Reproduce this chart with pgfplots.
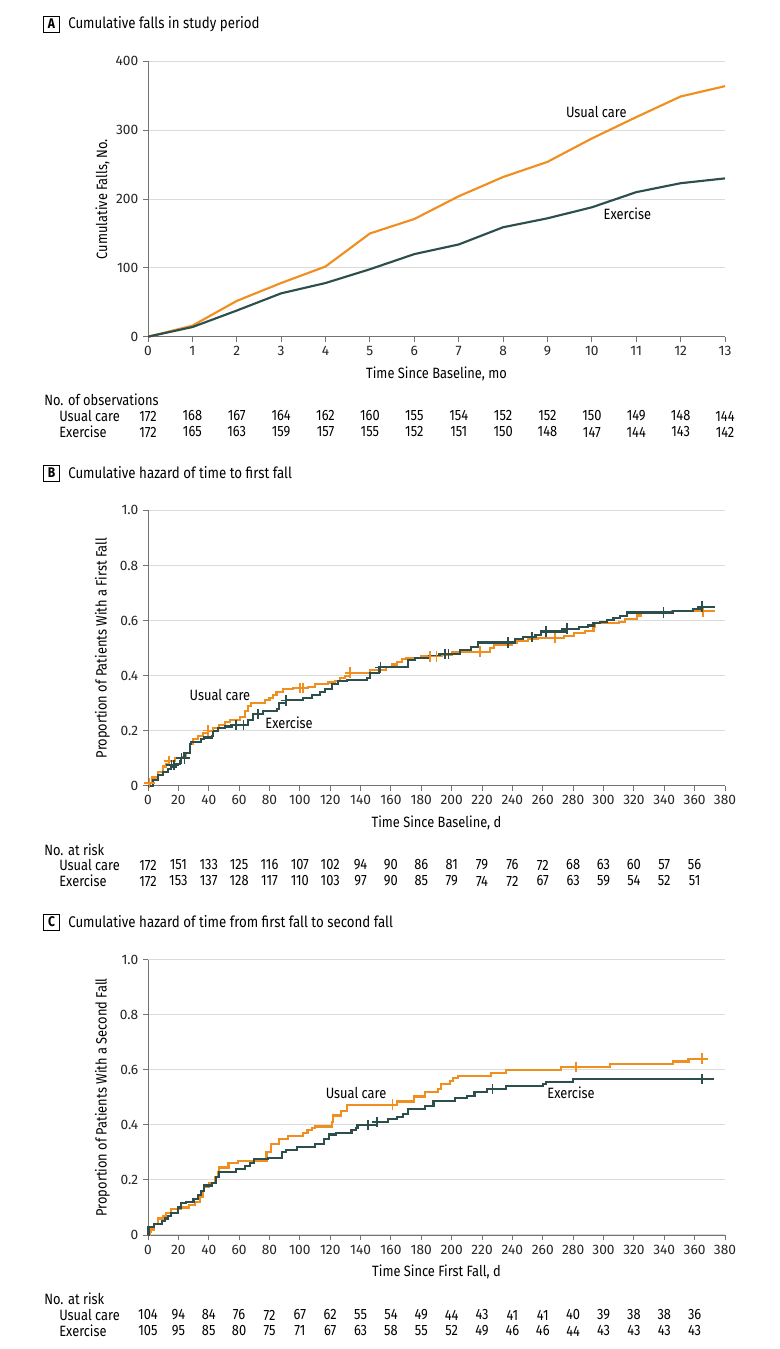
\documentclass[border=0pt]{standalone}
\usepackage{fontspec}
\setmainfont{Fira Sans}[FakeStretch=0.86]
\newfontfamily\tickfont{Fira Sans}
\usepackage{pgfplots}
\pgfplotsset{compat=1.18}
\definecolor{uc}{RGB}{240,142,32}
\definecolor{ex}{RGB}{44,78,76}
\newcommand{\lblfont}{\fontsize{11.2}{13}\selectfont}
\pgfplotsset{
  kmstyle/.style={
    scale only axis, width=432.75pt, height=206.5pt,
    axis lines=left, axis line style={-, draw=black!55, line width=0.7pt},
    ymajorgrids, grid style={draw=black!14, line width=0.8pt},
    tick align=outside, major tick length=3.75pt,
    tick style={draw=black!55, line width=0.7pt},
    ticklabel style={font=\tickfont\fontsize{10.3}{12}\selectfont, text=black!85},
    /pgf/number format/assume math mode=true,
    label style={font=\lblfont},
    xlabel style={at={(axis description cs:0.5,-0.135)}, anchor=center},
    ylabel style={at={(axis description cs:-0.079,0.5)}, anchor=center},
    anchor=south west, clip=false,
  },
  ucline/.style={draw=uc, line width=1.6pt},
  exline/.style={draw=ex, line width=1.6pt},
  ucmark/.style={only marks, mark=+, mark size=4pt, mark options={draw=uc, line width=1.2pt}},
  exmark/.style={only marks, mark=+, mark size=4pt, mark options={draw=ex, line width=1.2pt}},
}
\begin{document}
\begin{tikzpicture}
\path[use as bounding box] (0,0) rectangle (585pt,-1011.75pt);

% ---------------- Panel A ----------------
\node[draw, line width=0.7pt, minimum size=12pt, inner sep=0pt, font=\bfseries\fontsize{10.5}{12}\selectfont] at ({51.5*0.75pt},{-24*0.75pt}) {A};
\node[anchor=west, inner sep=0pt, font=\fontsize{11.6}{13}\selectfont] at ({68*0.75pt},{-24*0.75pt}) {Cumulative falls in study period};
\begin{axis}[kmstyle, at={({148*0.75pt},{-336.7*0.75pt})},
  xmin=0, xmax=13, ymin=0, ymax=400,
  xtick={0,1,...,13}, ytick={0,100,200,300,400},
  xlabel={Time Since Baseline, mo}, ylabel={Cumulative Falls, No.}]
\addplot[ucline] coordinates {(0,0)(1,16)(2,52)(3,78)(4,102)(5,150)(6,171)(7,204)(8,232)(9,254)(10,288)(11,319)(12,349)(13,364)};
\addplot[exline] coordinates {(0,0)(1,14)(2,38)(3,63)(4,78)(5,98)(6,120)(7,134)(8,159)(9,172)(10,188)(11,210)(12,223)(13,230)};
\node[font=\lblfont] at (axis cs:10.1,327) {Usual care};
\node[font=\lblfont] at (axis cs:10.8,178) {Exercise};
\end{axis}
\node[anchor=west, inner sep=0pt, font=\lblfont] at ({44*0.75pt},{-400*0.75pt}) {No. of observations};
\node[anchor=west, inner sep=0pt, font=\lblfont] at ({59*0.75pt},{-416*0.75pt}) {Usual care};
\node[anchor=west, inner sep=0pt, font=\lblfont] at ({59*0.75pt},{-432*0.75pt}) {Exercise};
\foreach \v [count=\i from 0] in {172,168,167,164,162,160,155,154,152,152,150,149,148,144}
  \node[inner sep=0pt, font=\lblfont] at ({(148+\i*44.385)*0.75pt},{-416*0.75pt}) {\v};
\foreach \v [count=\i from 0] in {172,165,163,159,157,155,152,151,150,148,147,144,143,142}
  \node[inner sep=0pt, font=\lblfont] at ({(148+\i*44.385)*0.75pt},{-432*0.75pt}) {\v};

% ---------------- Panel B ----------------
\node[draw, line width=0.7pt, minimum size=12pt, inner sep=0pt, font=\bfseries\fontsize{10.5}{12}\selectfont] at ({51.5*0.75pt},{-473*0.75pt}) {B};
\node[anchor=west, inner sep=0pt, font=\fontsize{11.6}{13}\selectfont] at ({68*0.75pt},{-473*0.75pt}) {Cumulative hazard of time to first fall};
\begin{axis}[kmstyle, at={({148*0.75pt},{-785.7*0.75pt})},
  xmin=0, xmax=380, ymin=0, ymax=1,
  xtick={0,20,...,380}, ytick={0,0.2,0.4,0.6,0.8,1.0},
  yticklabels={0,0.2,0.4,0.6,0.8,1.0},
  xlabel={Time Since Baseline, d}, ylabel={Proportion of Patients With a First Fall}]
\addplot[ucline, const plot] coordinates {
(0,0)(1,0.01)(3,0.03)(6.6,0.05)(10,0.07)(12,0.08)(14,0.09)(17.6,0.10)(23,0.105)(25,0.12)
(27.5,0.15)(29.7,0.17)(33,0.18)(36,0.19)(39.6,0.20)(43,0.21)(47,0.22)(50.6,0.23)(54,0.24)
(60.4,0.25)(63.7,0.27)(66,0.29)(68,0.30)(77,0.31)(80,0.32)(82.4,0.33)(84.6,0.34)(89,0.35)
(95.6,0.355)(105.5,0.36)(110,0.37)(118.7,0.375)(123,0.38)(126.4,0.39)(129.7,0.40)(133,0.41)
(146,0.42)(157,0.43)(160.5,0.44)(163.8,0.45)(167,0.46)(170,0.465)(180,0.47)(193.4,0.475)
(200,0.487)(225,0.499)(228,0.51)(240,0.52)(242.8,0.525)(250.5,0.532)(257,0.537)(273.7,0.545)
(280.3,0.554)(288,0.562)(293.4,0.576)(294.5,0.59)(310,0.596)(314,0.606)(322,0.618)(324.4,0.627)
(345,0.633)(373.6,0.633)};
\addplot[exline, const plot] coordinates {
(0,0)(3.3,0.02)(6.6,0.04)(10,0.05)(13,0.06)(15.4,0.07)(18.7,0.08)(21,0.09)(22,0.10)(24,0.12)
(27.5,0.15)(28.6,0.16)(35,0.17)(37,0.175)(42,0.18)(43,0.20)(46,0.21)(50.5,0.215)(55,0.22)
(66,0.24)(69,0.26)(76,0.27)(85,0.28)(86,0.30)(91,0.31)(102,0.32)(108,0.33)(113,0.34)
(116.5,0.35)(121,0.37)(125,0.38)(131,0.385)(144,0.39)(146,0.41)(152,0.43)(171,0.457)
(176,0.463)(185,0.47)(192,0.478)(205.5,0.493)(213,0.503)(217.6,0.52)(241.8,0.532)(247,0.54)
(255,0.548)(259,0.56)(274.7,0.57)(283.6,0.576)(290,0.582)(293.4,0.59)(297.8,0.596)(302,0.602)
(306.6,0.61)(311,0.617)(315.4,0.629)(346,0.636)(359,0.642)(365,0.65)(373.6,0.65)};
\addplot[ucmark] coordinates {(1,0.01)(14,0.09)(39.6,0.20)(100,0.355)(102,0.355)(133,0.41)(185.7,0.47)(190,0.47)(218.6,0.487)(268,0.537)(365.4,0.633)};
\addplot[exmark] coordinates {(15.4,0.075)(17,0.075)(22,0.10)(24,0.10)(58,0.22)(63,0.22)(72.5,0.26)(91,0.31)(153,0.43)(195.6,0.478)(197.8,0.478)(237,0.52)(252.8,0.54)(262,0.56)(275.8,0.57)(339.6,0.629)(365,0.65)};
\node[font=\lblfont] at (axis cs:47.4,0.331) {Usual care};
\node[font=\lblfont] at (axis cs:92.9,0.229) {Exercise};
\end{axis}
\node[anchor=west, inner sep=0pt, font=\lblfont] at ({44*0.75pt},{-850*0.75pt}) {No. at risk};
\node[anchor=west, inner sep=0pt, font=\lblfont] at ({59*0.75pt},{-865*0.75pt}) {Usual care};
\node[anchor=west, inner sep=0pt, font=\lblfont] at ({59*0.75pt},{-881*0.75pt}) {Exercise};
\foreach \v [count=\i from 0] in {172,151,133,125,116,107,102,94,90,86,81,79,76,72,68,63,60,57,56}
  \node[inner sep=0pt, font=\lblfont] at ({(148+\i*30.368)*0.75pt},{-865*0.75pt}) {\v};
\foreach \v [count=\i from 0] in {172,153,137,128,117,110,103,97,90,85,79,74,72,67,63,59,54,52,51}
  \node[inner sep=0pt, font=\lblfont] at ({(148+\i*30.368)*0.75pt},{-881*0.75pt}) {\v};

% ---------------- Panel C ----------------
\node[draw, line width=0.7pt, minimum size=12pt, inner sep=0pt, font=\bfseries\fontsize{10.5}{12}\selectfont] at ({51.5*0.75pt},{-922*0.75pt}) {C};
\node[anchor=west, inner sep=0pt, font=\fontsize{11.6}{13}\selectfont] at ({68*0.75pt},{-922*0.75pt}) {Cumulative hazard of time from first fall to second fall};
\begin{axis}[kmstyle, at={({148*0.75pt},{-1235*0.75pt})},
  xmin=0, xmax=380, ymin=0, ymax=1,
  xtick={0,20,...,380}, ytick={0,0.2,0.4,0.6,0.8,1.0},
  yticklabels={0,0.2,0.4,0.6,0.8,1.0},
  xlabel={Time Since First Fall, d}, ylabel={Proportion of Patients With a Second Fall}]
\addplot[ucline, const plot] coordinates {
(0,0)(1,0.01)(2,0.02)(4,0.04)(6.6,0.06)(10,0.07)(12,0.08)(15,0.095)(22,0.10)(27,0.11)
(31,0.12)(34,0.14)(36,0.16)(37,0.175)(40,0.19)(44,0.21)(46,0.23)(47,0.245)(53,0.26)(59,0.27)
(78,0.30)(81,0.33)(86,0.35)(92,0.36)(102,0.37)(105,0.38)(108,0.39)(110,0.394)(121,0.412)
(122,0.434)(127,0.45)(131,0.473)(164,0.485)(175,0.503)(182.5,0.52)(191,0.53)(193,0.55)
(199,0.56)(201,0.57)(204,0.579)(226,0.59)(236,0.60)(272,0.61)(304,0.622)(346,0.63)(356,0.64)(369,0.64)};
\addplot[exline, const plot] coordinates {
(0,0)(0.3,0.028)(4,0.04)(9,0.05)(11,0.06)(13,0.07)(15,0.08)(20,0.10)(22,0.115)(25,0.12)
(30,0.13)(33,0.145)(35,0.16)(37,0.18)(42,0.19)(45,0.21)(47,0.228)(58,0.24)(64,0.25)(67,0.26)
(70,0.275)(79,0.28)(88,0.30)(91,0.31)(98,0.32)(110,0.33)(116,0.35)(119,0.365)(124,0.37)
(134,0.38)(137,0.39)(138,0.40)(151,0.41)(158,0.42)(164,0.43)(168,0.44)(171,0.458)(182.5,0.47)
(188,0.488)(202,0.497)(210,0.505)(215,0.52)(223,0.53)(236,0.54)(260,0.55)(262,0.557)(280,0.567)(373,0.567)};
\addplot[ucmark] coordinates {(161,0.473)(282,0.61)(365,0.64)};
\addplot[exmark] coordinates {(145,0.40)(151,0.41)(227,0.53)(365,0.567)};
\node[font=\lblfont] at (axis cs:137,0.516) {Usual care};
\node[font=\lblfont] at (axis cs:278.6,0.516) {Exercise};
\end{axis}
\node[anchor=west, inner sep=0pt, font=\lblfont] at ({44*0.75pt},{-1299*0.75pt}) {No. at risk};
\node[anchor=west, inner sep=0pt, font=\lblfont] at ({59*0.75pt},{-1315*0.75pt}) {Usual care};
\node[anchor=west, inner sep=0pt, font=\lblfont] at ({59*0.75pt},{-1331*0.75pt}) {Exercise};
\foreach \v [count=\i from 0] in {104,94,84,76,72,67,62,55,54,49,44,43,41,41,40,39,38,38,36}
  \node[inner sep=0pt, font=\lblfont] at ({(148+\i*30.368)*0.75pt},{-1315*0.75pt}) {\v};
\foreach \v [count=\i from 0] in {105,95,85,80,75,71,67,63,58,55,52,49,46,46,44,43,43,43,43}
  \node[inner sep=0pt, font=\lblfont] at ({(148+\i*30.368)*0.75pt},{-1331*0.75pt}) {\v};
\end{tikzpicture}
\end{document}
